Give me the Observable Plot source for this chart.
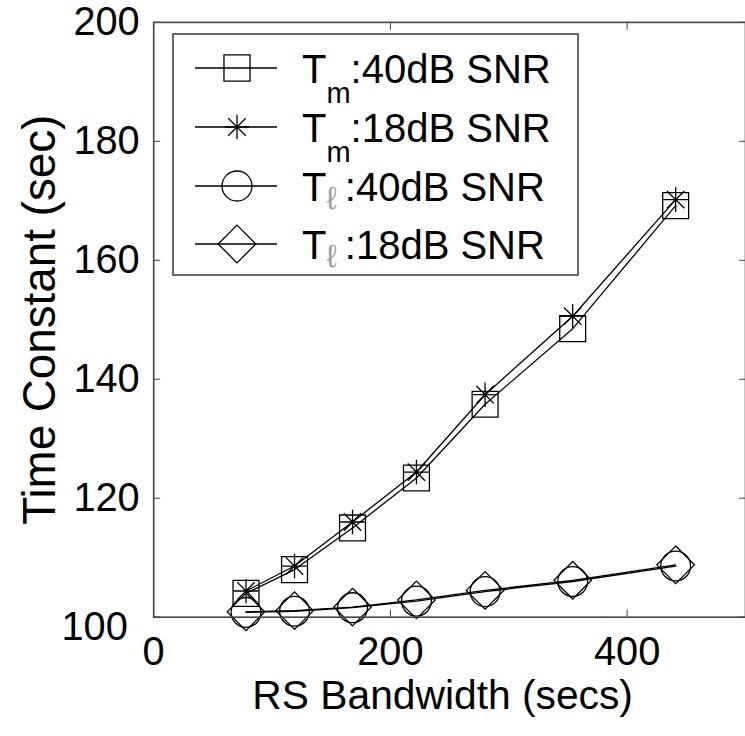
<!DOCTYPE html>
<html>
<head>
<meta charset="utf-8">
<script src="https://cdn.jsdelivr.net/npm/d3@7"></script>
<script src="https://cdn.jsdelivr.net/npm/@observablehq/plot@0.6"></script>
<style>
  html, body { margin: 0; padding: 0; background: #fff; overflow: hidden; }
  #wrap { position: relative; width: 745px; height: 736px; overflow: hidden; background: #fff; }
  #legend { position: absolute; left: 172px; top: 33px; }
</style>
</head>
<body>
<div id="wrap"></div>
<script>
// ---- data ----
const bandwidth = [78, 119, 168, 222, 280, 354, 441];           // RS Bandwidth (secs)
const tm40 = [104.0, 108.0, 115.0, 123.4, 135.8, 148.5, 169.2]; // T_m : 40dB SNR
const tm18 = [104.4, 108.6, 116.0, 124.4, 137.4, 150.6, 170.2]; // T_m : 18dB SNR
const tl40 = [100.8, 101.0, 101.6, 102.7, 104.3, 106.0, 108.6]; // T_l : 40dB SNR
const tl18 = [100.9, 101.1, 101.7, 102.9, 104.5, 106.2, 108.8]; // T_l : 18dB SNR
const xTicks = [0, 200, 400];
const yTicks = [100, 120, 140, 160, 180, 200];
const xTitle = ["RS Bandwidth (secs)"];
const yTitle = ["Time Constant (sec)"];
const legendSub = ["m", "m", "\u2113", "\u2113"];
const legendText = [":40dB SNR", ":18dB SNR", ":40dB SNR", ":18dB SNR"];
const legendSymbols = ["square", "star", "circle", "diamond"];

const FONT = "'Liberation Sans', Arial, Helvetica, sans-serif";
const INK = "#000";
const AX = "#444";
const rows = ys => bandwidth.map((x, i) => ({x, y: ys[i]}));
const lineOpts = {x: "x", y: "y", stroke: INK, strokeWidth: 1.3};
const dotOpts = {x: "x", y: "y", stroke: INK, strokeWidth: 1.3, fill: "none"};

const chart = Plot.plot({
  width: 749,
  height: 736,
  marginLeft: 154,
  marginRight: 0,
  marginTop: 22,
  marginBottom: 116,
  style: {fontFamily: FONT, fontSize: "40px", color: INK, background: "#fff", overflow: "visible"},
  x: {domain: [0, 500]},
  y: {domain: [100, 200]},
  marks: [
    // data
    Plot.line(rows(tl40), lineOpts),
    Plot.line(rows(tl18), lineOpts),
    Plot.line(rows(tm40), lineOpts),
    Plot.line(rows(tm18), lineOpts),
    Plot.dot(rows(tl40), {...dotOpts, symbol: "circle", r: 15}),
    Plot.dot(rows(tl18), {...dotOpts, symbol: "diamond2", r: 17}),
    Plot.dot(rows(tm40), {...dotOpts, symbol: "square", r: 14.7}),
    Plot.dot(rows(tm18), {...dotOpts, symbol: "plus", r: 8}),
    Plot.dot(rows(tm18), {...dotOpts, symbol: "times", r: 8}),
    Plot.dot(rows(tm18), {x: "x", y: "y", fill: INK, r: 2}),
    // frame + inward ticks
    Plot.frame({stroke: AX, strokeWidth: 1.6}),
    Plot.axisX(xTicks, {anchor: "bottom", tickSize: -7, fill: "none", stroke: AX, label: null}),
    Plot.axisX(xTicks, {anchor: "top", tickSize: -7, fill: "none", stroke: AX, label: null}),
    Plot.axisY(yTicks, {anchor: "left", tickSize: -7, fill: "none", stroke: AX, label: null}),
    Plot.axisY(yTicks, {anchor: "right", tickSize: -7, fill: "none", stroke: AX, label: null}),
    // tick labels
    Plot.axisX(xTicks, {anchor: "bottom", tickSize: 0, tickPadding: 20, fontSize: 40, label: null, fill: INK}),
    Plot.axisY(yTicks.slice(1), {anchor: "left", tickSize: 0, tickPadding: 14, fontSize: 40, label: null, fill: INK}),
    Plot.axisY(yTicks.slice(0, 1), {anchor: "left", tickSize: 0, tickPadding: 14, dx: -12, dy: 10, fontSize: 40, label: null, fill: INK}),
    // axis titles
    Plot.text(xTitle, {text: d => d, frameAnchor: "bottom", dx: -7, dy: 79, fontSize: 41, fill: INK, lineAnchor: "middle", textAnchor: "middle"}),
    Plot.text(yTitle, {text: d => d, frameAnchor: "left", dx: -114, rotate: -90, fontSize: 46, fill: INK, textAnchor: "middle", lineAnchor: "middle"})
  ]
});
document.getElementById("wrap").appendChild(chart);

// ---- legend ----
const LW = 406, LH = 242, rowY = [35, 94, 153, 211];
const leg = d3.select("#wrap").append("svg")
  .attr("id", "legend").attr("width", LW + 2).attr("height", LH + 2)
  .style("font-family", FONT);
leg.append("rect").attr("x", 1).attr("y", 1).attr("width", LW - 1).attr("height", LH - 1)
  .attr("fill", "#fff").attr("stroke", AX).attr("stroke-width", 1.6);
const sym = (name, size) => d3.symbol(name, size)();
legendSymbols.forEach((s, i) => {
  const g = leg.append("g").attr("transform", `translate(65,${rowY[i]})`);
  g.append("line").attr("x1", -42).attr("x2", 40).attr("stroke", INK).attr("stroke-width", 1.3);
  const st = {fill: "none", stroke: INK, "stroke-width": 1.3};
  const add = d => { const p = g.append("path").attr("d", d); Object.entries(st).forEach(([k, v]) => p.attr(k, v)); };
  if (s === "square") add(sym(d3.symbolSquare, Math.PI * 14.7 * 14.7));
  if (s === "circle") add(sym(d3.symbolCircle, Math.PI * 15 * 15));
  if (s === "diamond") add(sym(d3.symbolDiamond2, Math.PI * 17 * 17));
  if (s === "star") {
    add(sym(d3.symbolPlus, Math.PI * 8 * 8));
    add(sym(d3.symbolTimes, Math.PI * 8 * 8));
    g.append("circle").attr("r", 2).attr("fill", INK);
  }
  const t = leg.append("text").attr("x", 130).attr("y", rowY[i] + 15)
    .attr("font-size", 40).attr("fill", INK);
  t.append("tspan").text("T");
  if (legendSub[i] === "m") {
    t.append("tspan").attr("dy", 20).attr("font-size", 29).text("m");
    t.append("tspan").attr("dy", -20).text(legendText[i]);
  } else {
    t.append("tspan").attr("dy", 8).attr("font-size", 32).attr("fill", "#a0a0a0").text(legendSub[i]);
    t.append("tspan").attr("dy", -8).text("\u2009" + legendText[i]);
  }
});
</script>
</body>
</html>
